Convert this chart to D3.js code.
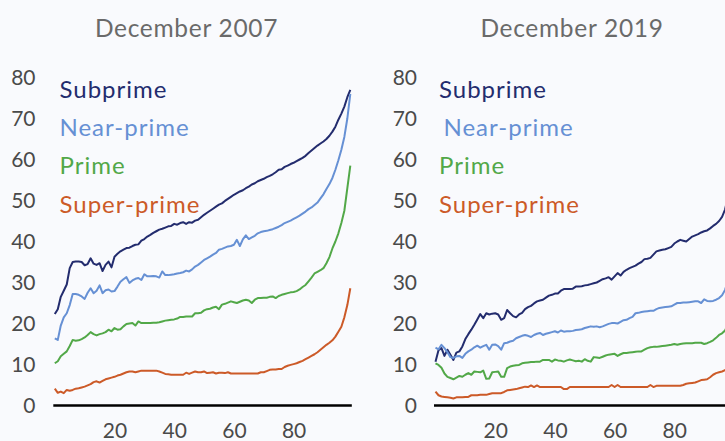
<!DOCTYPE html>
<html><head><meta charset="utf-8">
<script src="https://cdn.jsdelivr.net/npm/d3@7"></script>
<style>
html,body{margin:0;padding:0;background:#f9fafd;overflow:hidden}
svg{display:block;font-family:Lato,"Noto Sans",sans-serif;font-weight:400}
</style></head>
<body><svg id="chart" width="725" height="441"></svg>
<script>
const panelTitles = ["December 2007", "December 2019"];
const seriesNames = ["Subprime", "Near-prime", "Prime", "Super-prime"];
const yTicks = [0, 10, 20, 30, 40, 50, 60, 70, 80];
const xTicks = [20, 40, 60, 80];

// December 2007 (percentile 0..99)
const sub2007 = [22.3,23.5,26.5,28,29.5,33.5,35,35.1,35.1,35,34.2,34.5,35.9,34.6,34.3,34.7,32.8,34.3,35.1,33.7,
36.3,37,37.6,38,38.4,38.5,38.9,39.2,39.3,40.2,40.6,41.2,41.6,42.1,42.5,42.9,43.1,43.4,43.7,43.8,
44.3,44.1,44.5,44.7,44.3,44.7,44.6,45.1,45.3,45.9,46.5,47,47.5,48,48.5,49,49.3,49.9,50.4,50.9,
51.4,51.8,52.2,52.5,53,53.4,53.9,54.2,54.7,55,55.3,55.7,56,56.4,56.9,57.5,57.6,58.2,58.5,58.9,
59.2,59.6,60,60.4,60.9,61.6,62.2,62.8,63.4,63.9,64.4,65,65.8,66.8,68,69.7,71.2,72.9,75.2,77];
const near2007 = [16.4,16,19.5,21.5,22.5,24.5,27.2,27.2,27,26.6,26,27.5,28.6,27.4,28,29.3,27.4,28.1,28.3,27.8,
27.9,29,30.2,30.8,31.3,29.9,30.5,30.9,31.1,30.6,32,31.5,31.5,31.6,31.5,31.2,32.7,31.8,31.8,31.9,
32,32.2,32.3,32.5,32.9,32.7,33.2,33.9,34.3,34.9,35.5,35.9,36.3,36.8,37.2,38,38.2,38.5,38.8,38.9,
39.2,40.4,38.9,40.5,41.5,40.6,41,41.4,42,42.3,42.5,42.6,42.8,43,43.3,43.6,44,44.5,44.8,45.1,
45.5,45.9,46.3,46.8,47.3,47.9,48.3,48.9,49.5,50.5,51.5,52.8,54,55.5,57.5,59.8,62.4,65.5,70,76];
const prime2007 = [10.3,10.8,12,12.6,13.2,14.5,16,15.8,15.9,16.2,16.6,17.2,17.9,17.4,17.1,17.4,17.6,17.9,18.5,18.1,
18.9,18.5,18.6,19.3,19.9,20,20.1,19.5,20.5,20.1,20.1,20.1,20.1,20.2,20.2,20.3,20.5,20.7,20.8,20.9,
21,21.2,21.6,21.6,21.7,21.7,21.7,22.5,22.5,22.6,23.2,23.5,23.6,23.9,24.1,23.5,24.6,24.8,25.1,25.4,
25.2,25,25.3,25.6,25.8,25.6,25,25.8,26.2,26.2,26.3,26.3,26.5,26.6,26.2,26.7,27,27.2,27.4,27.6,
27.7,27.9,28.3,28.9,29.4,30.3,31.2,32.2,32.6,33,33.5,34.7,36.2,38.3,40,42,44.5,47.5,53,58.5];
const super2007 = [4.1,3.1,3.4,3,3.8,3.6,3.8,4.1,4.2,4.4,4.6,4.9,5.2,5.7,5.9,5.6,6,6.4,6.6,6.8,
7,7.3,7.5,7.8,8.1,8.3,8.3,8.1,8.3,8.5,8.5,8.5,8.5,8.5,8.5,8.3,8,7.7,7.6,7.5,
7.5,7.5,7.5,7.5,8,7.7,8,8.3,8.1,8.1,8.3,7.9,8,8.1,7.8,8,8,7.9,8.1,7.8,
7.8,7.8,7.8,7.8,7.8,7.8,7.8,7.8,7.8,8.1,8.1,8.4,8.7,8.8,8.8,8.9,8.9,9.4,9.7,9.9,
10.1,10.3,10.6,10.9,11.3,11.7,12.1,12.5,13,13.6,14.2,14.8,15.3,15.9,16.8,18,19.2,21.5,24.5,28.6];

// December 2019 (percentile 0..99)
const sub2019 = [10.7,13.5,14,12.1,13.6,12.4,11.1,12.9,13.2,14.4,16.2,17.4,18.5,19.7,21,22.3,21.3,22.5,22.2,22.4,
22.5,22.2,20.9,21.3,23.3,22.5,21.8,21.5,22.2,22.6,23.5,24,24.3,24.9,25.4,25.6,25.8,26.3,26.8,27,
27.3,27.3,28,28.4,28.4,28.4,28.5,29,29,29.1,29.3,29.4,29.6,29.8,30,30.4,30.8,31,31.3,30.7,
31.5,32.3,31.7,32.6,33.1,33.5,33.8,34.1,34.6,35,35.7,35.8,36,36.8,37.6,37.8,38,38.1,38.4,38.7,
39.5,40,40.4,40.2,40,40.6,41.2,41.5,41.8,42.2,42.5,42.7,43.2,43.8,44.3,45,46,47.8,51,55];
const near2019 = [14.1,13.7,14.8,14,13,11.8,11.6,12,12.1,11.6,12.6,13.2,13.6,14.2,14.6,14.1,14.5,14.8,13.6,14.8,
14.9,14.5,13.6,15.2,15.3,15.6,15.8,16.4,16.7,17,17.2,17,16.7,17.2,17.5,17.7,17.2,17.5,17.7,17.9,
18.1,17.8,18.3,18,18.1,18.1,18.2,18.4,18.5,18.6,18.9,19.1,19.3,19.2,19.3,19.1,19.3,19.6,19.9,20.1,
20.1,20,20.4,20.8,20.9,21.3,21.6,22.5,22.6,22.8,22.9,23,23.1,23.1,23.5,23.8,23.9,24,24.1,24.2,
24.6,25,25,25.1,25.1,25.2,25.3,25.4,25.4,25,25.9,25.5,25.4,25.5,25.8,26.2,26.9,28.2,30.5,33.5];
const prime2019 = [10.3,9.9,9.2,7.8,7,6.7,6.4,6.8,7.2,7,7.5,7.9,7.5,8.3,8.2,8.1,8.5,6.5,6.6,8.1,
8.2,8.3,7,7,9.1,9.5,9.7,9.8,9.9,10.3,10.4,10.5,10.6,10.6,10.7,10.7,11.1,11.1,11.1,10.7,
11.2,11,10.9,10.7,11,11.2,11,10.8,10.9,10.7,11.3,10.9,10.7,11.8,11.7,11.6,11.9,12.2,12.4,12.5,
12.6,12.1,12.5,12.8,12.8,12.9,13,13.1,13.2,13.2,13.6,14,14.2,14.3,14.3,14.4,14.5,14.6,14.7,14.8,
15,14.8,15,15.1,15.2,15.2,15.2,15.3,15.3,15.3,15,15.2,15.5,15.9,16.5,17.2,17.6,18.3,19.8,22];
const super2019 = [3.4,2.5,2.2,2.1,2,1.9,1.7,2,2,2,2.1,2.1,2.5,2.5,2.5,2.6,2.6,2.6,2.8,3,
3,3,3,3.3,3.7,3.8,3.9,4,4.2,4.4,4.6,4.5,4.9,4.5,4.9,4.5,4.5,4.5,4.5,4.5,
4.5,4.5,4.5,4,4,4.5,4.5,4.5,4.5,4.5,4.5,4.5,4.5,4.5,4.5,4.5,4.5,4.5,4.5,5,
4.5,5,4.5,4.5,4.5,4.5,4.5,4.5,4.5,4.5,4.5,4.5,5,4.5,4.8,4.8,4.8,4.8,4.8,4.8,
4.8,4.8,4.8,5,5.3,5.4,5.5,5.6,5.9,6.2,6.3,6.4,6.9,7.5,7.9,8.1,8.3,8.6,9.5,11];

const colors = ["#232c6e", "#6690d4", "#52a848", "#cc5a28"];

const panels = [
  {title: panelTitles[0], series: [sub2007, near2007, prime2007, super2007], x0: 54.8, labelX: 35.5, titleX: 186.5, legendX: [59.5, 59.5, 59.5, 59.5]},
  {title: panelTitles[1], series: [sub2019, near2019, prime2019, super2019], x0: 435.5, labelX: 417, titleX: 572, legendX: [439, 443.5, 439, 439]}
];

const svg = d3.select("#chart");
svg.append("rect").attr("width", 725).attr("height", 441).attr("fill", "#f9fafd");

const y = d3.scaleLinear().domain([0, 80]).range([405.5, 77.5]);
const step = 2.985;

panels.forEach(p => {
  const x = d3.scaleLinear().domain([0, 99]).range([p.x0, p.x0 + 99 * step]);
  const g = svg.append("g");

  // title
  g.append("text").attr("x", p.titleX).attr("y", 36.5)
    .attr("text-anchor", "middle").attr("fill", "#6a6a6a")
    .attr("font-size", "24.5px").attr("letter-spacing", "0.7px").text(p.title);

  // y tick labels
  g.selectAll(".yl").data(yTicks).join("text")
    .attr("x", p.labelX).attr("y", d => y(d)).attr("dy", "0.36em")
    .attr("text-anchor", "end").attr("fill", "#4a4a4a")
    .attr("font-size", "21px").text(d => d);

  // x axis labels, no ticks
  const xAxis = d3.axisBottom(x).tickValues(xTicks).tickSize(0).tickPadding(18);
  const ax = g.append("g").attr("transform", `translate(0,${y(0)})`).call(xAxis);
  ax.select(".domain").remove();
  ax.selectAll("text").attr("font-size", "21px").attr("fill", "#4a4a4a")
    .attr("font-family", "Lato,'Noto Sans',sans-serif").attr("font-weight", 400);
  g.append("line")
    .attr("x1", x(-0.5)).attr("x2", x(99.5))
    .attr("y1", y(0)).attr("y2", y(0))
    .attr("stroke", "#000").attr("stroke-width", 2.5);

  // lines
  const line = d3.line().x((d, i) => x(i)).y(d => y(d));
  p.series.forEach((s, k) => {
    g.append("path").datum(s).attr("d", line)
      .attr("fill", "none").attr("stroke", colors[k])
      .attr("stroke-width", 2).attr("stroke-linejoin", "round");
  });

  // legend labels
  seriesNames.forEach((n, k) => {
    g.append("text").attr("x", p.legendX[k]).attr("y", 97.7 + k * 38.3)
      .attr("fill", colors[k]).attr("font-size", "24px")
      .attr("letter-spacing", "1px").text(n);
  });
});
</script></body></html>
